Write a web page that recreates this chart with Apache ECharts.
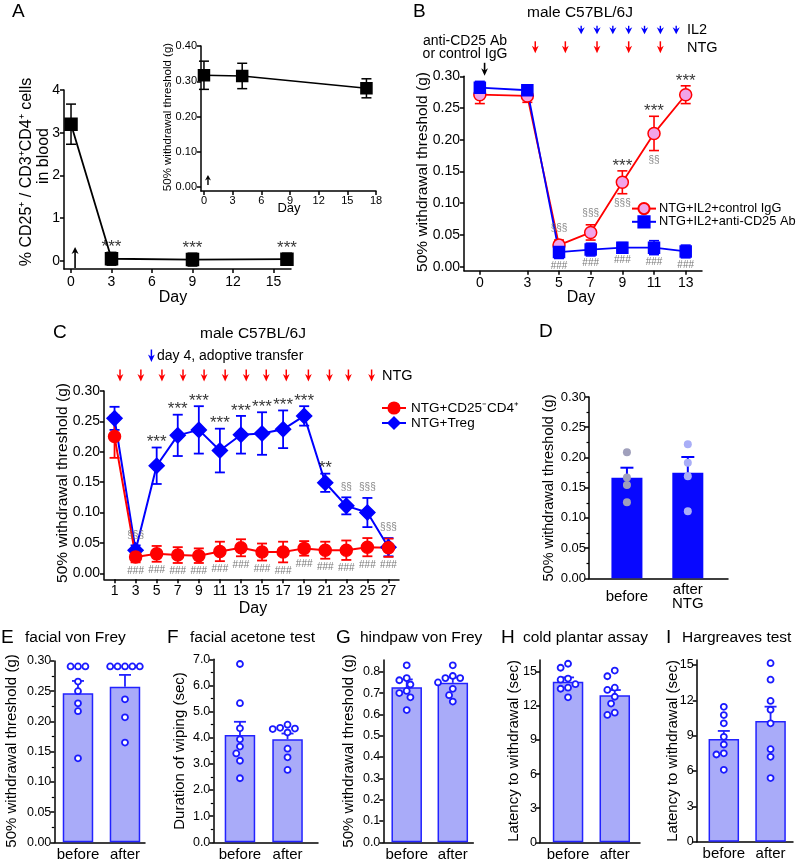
<!DOCTYPE html>
<html><head><meta charset="utf-8">
<script src="https://cdn.jsdelivr.net/npm/echarts@6/dist/echarts.min.js"></script>
<style>html,body{margin:0;padding:0;background:#fff}#c{width:800px;height:863px}</style>
</head><body><div id="c"></div>
<script>
// ================= DATA =================
// Panel A (main): % CD25+ / CD3+CD4+ cells in blood
const aDays = [0, 3, 9, 16];
const aMean = [3.2, 0.05, 0.03, 0.04];
const aSem  = [0.47, 0.15, 0.15, 0.14];
const aStarDays = [3, 9, 16];
const aTicksX = [0, 3, 6, 9, 12, 15];
const aTicksY = [0, 1, 2, 3, 4];
const aArrowDays = [0.3];
// Panel A inset
const aiDays = [0, 4, 17];
const aiMean = [0.317, 0.315, 0.280];
const aiSem  = [0.040, 0.036, 0.027];
const aiTicksX = [0, 3, 6, 9, 12, 15, 18];
const aiTicksY = [0, 0.1, 0.2, 0.3, 0.4];
const aiArrowDays = [0.42];
// Panel B
const bDays = [0, 3, 5, 7, 9, 11, 13];
const bIgGMean = [0.271, 0.269, 0.034, 0.054, 0.133, 0.210, 0.271];
const bIgGSem  = [0.014, 0.010, 0.008, 0.012, 0.018, 0.027, 0.014];
const bAbMean  = [0.282, 0.278, 0.023, 0.027, 0.030, 0.030, 0.024];
const bAbSem   = [0.010, 0.008, 0.010, 0.010, 0.008, 0.011, 0.010];
const bTicksX = [0, 3, 5, 7, 9, 11, 13];
const bTicksY = [0, 0.05, 0.10, 0.15, 0.20, 0.25, 0.30];
const bStarDays = [9, 11, 13];
const bSecAboveDays = [5, 7];      const bSecAboveText = ['§§§', '§§§'];
const bSecBelowDays = [9, 11];     const bSecBelowText = ['§§§', '§§'];
const bHashDays = [5, 7, 9, 11, 13];
const bIL2Days = [6.4, 7.4, 8.4, 9.4, 10.4, 11.4, 12.4];
const bNTGDays = [3.5, 5.4, 7.4, 9.4, 11.4];
const bAbDays = [0.3];
// Panel C
const cDays = [1, 3, 5, 7, 9, 11, 13, 15, 17, 19, 21, 23, 25, 27];
const cRedMean  = [0.225, 0.027, 0.032, 0.030, 0.029, 0.036, 0.042, 0.035, 0.035, 0.041, 0.038, 0.038, 0.043, 0.042];
const cRedSem   = [0.035, 0.009, 0.013, 0.013, 0.012, 0.016, 0.014, 0.014, 0.017, 0.012, 0.014, 0.016, 0.015, 0.015];
const cBlueMean = [0.255, 0.038, 0.177, 0.227, 0.236, 0.202, 0.228, 0.230, 0.237, 0.259, 0.149, 0.111, 0.100, 0.043];
const cBlueSem  = [0.019, 0.008, 0.030, 0.034, 0.039, 0.036, 0.031, 0.035, 0.031, 0.016, 0.015, 0.014, 0.024, 0.015];
const cTicksX = [1, 3, 5, 7, 9, 11, 13, 15, 17, 19, 21, 23, 25, 27];
const cTicksY = [0, 0.05, 0.10, 0.15, 0.20, 0.25, 0.30];
const cStarDays = [5, 7, 9, 11, 13, 15, 17, 19, 21];
const cStarText = ['***', '***', '***', '***', '***', '***', '***', '***', '**'];
const cSecDays = [3, 23, 25, 27];  const cSecText = ['§§§', '§§', '§§§', '§§§'];
const cHashDays = [3, 5, 7, 9, 11, 13, 15, 17, 19, 21, 23, 25, 27];
const cNTGDays = [1.52, 3.5, 5.5, 7.5, 9.5, 11.5, 13.5, 15.4, 17.3, 19.4, 21.4, 23.2, 25.4];
const cTransferDays = [4.5];
// Panel D
const dCats = ['before', 'after\nNTG'];
const dMean = [0.1665, 0.1747];
const dSem  = [0.0165, 0.0260];
const dBefore = [0.2085, 0.1666, 0.1544, 0.1258];
const dAfter  = [0.222, 0.191, 0.169, 0.111];
// Panels E-I
const eiCats = ['before', 'after'];
const eMean = [0.2465, 0.2575]; const eSem = [0.0205, 0.0195];
const eBefore = [0.291, 0.291, 0.291, 0.266, 0.250, 0.230, 0.217, 0.139];
const eAfter  = [0.291, 0.291, 0.291, 0.291, 0.291, 0.2366, 0.2068, 0.165];
const fMean = [4.10, 3.94]; const fSem = [0.51, 0.22];
const fBefore = [6.82, 5.32, 4.36, 3.94, 3.66, 3.40, 3.12, 2.45];
const fAfter  = [4.50, 4.38, 4.35, 4.33, 4.20, 3.58, 3.25, 2.77];
const gMean = [0.727, 0.748]; const gSem = [0.037, 0.025];
const gBefore = [0.83, 0.77, 0.76, 0.74, 0.71, 0.70, 0.68, 0.62];
const gAfter  = [0.83, 0.78, 0.77, 0.77, 0.75, 0.72, 0.69, 0.66];
const hMean = [14.12, 12.92]; const hSem = [0.38, 0.47];
const hBefore = [15.7, 15.35, 14.4, 14.3, 13.9, 13.6, 13.5, 12.75];
const hAfter  = [15.1, 14.6, 13.6, 13.4, 12.8, 12.2, 11.4, 11.2];
const iMean = [8.72, 10.25]; const iSem = [0.68, 1.21];
const iBefore = [11.45, 10.75, 10.05, 8.9, 8.25, 7.5, 7.4, 6.1];
const iAfter  = [15.15, 13.75, 11.95, 11.2, 10.05, 7.85, 7.2, 5.4];

// ================= LAYOUT =================
const FF = '"Liberation Sans", Arial, Helvetica, sans-serif';
const G = [
  {l:64,    t:90,    w:227,   h:179,   x:[-0.52,16.3],  y:[-0.19,4]},        //0 A
  {l:201,   t:46,    w:175,   h:145,   x:[-0.31,18],    y:[-0.0113,0.40]},   //1 A inset
  {l:464,   t:76.3,  w:238,   h:194.4, x:[-1,14.03],    y:[-0.0063,0.30]},   //2 B
  {l:104,   t:391,   w:295,   h:188.3, x:[0,28],        y:[-0.00987,0.30]},  //3 C
  {l:589,   t:397,   w:139,   h:181.3, x:[-0.623,1.66], y:[0,0.30]},         //4 D
  {l:54.3,  t:661,   w:90.7,  h:181.3, x:[-0.504,1.426],y:[0,0.30]},         //5 E
  {l:213.3, t:659.3, w:104.7, h:183,   x:[-0.56,1.64],  y:[0,7]},            //6 F
  {l:383.3, t:660,   w:90,    h:182.3, x:[-0.508,1.445],y:[0,0.855]},        //7 G
  {l:540,   t:660,   w:100,   h:182.3, x:[-0.6,1.54],   y:[0,16.03]},        //8 H
  {l:696.7, t:660,   w:96.3,  h:181.7, x:[-0.58,1.48],  y:[0,15.42]}         //9 I
];
const grids = G.map(g => ({left:g.l, top:g.t, width:g.w, height:g.h, containLabel:false}));

function axis(i, dim, o) {
  const g = G[i]; const r = dim === 'x' ? g.x : g.y;
  const a = {
    gridIndex:i, type:'value', min:r[0], max:r[1], position: dim === 'x' ? 'bottom' : 'left',
    splitLine:{show:false},
    axisLine:{show:true, onZero:false, lineStyle:{color:'#000', width:1.5}},
    axisTick:{show:o.tick !== false, length:4, lineStyle:{color:'#000', width:1.5}},
    axisLabel:{show:true, color:'#000', fontFamily:FF, fontSize:o.fs, margin:o.margin || 5,
               formatter:o.fmt, lineHeight:o.lh, verticalAlign:o.va},
    minorTick:{show:!!o.minor, splitNumber:2, length:2.5, lineStyle:{color:'#000', width:1.2}}
  };
  if (o.vals) { a.axisLabel.customValues = o.vals; a.axisTick.customValues = o.vals; }
  if (o.interval) a.interval = o.interval;
  return a;
}
const f0 = v => String(Math.round(v));
const f1 = v => v.toFixed(1);
const f2 = v => v.toFixed(2);
const catFmt = cats => v => cats[Math.round(v)];

const xAxes = [
  axis(0,'x',{fs:14, vals:aTicksX, fmt:f0, margin:6}),
  axis(1,'x',{fs:11, vals:aiTicksX, fmt:f0, margin:4}),
  axis(2,'x',{fs:14, vals:bTicksX, fmt:f0, margin:5}),
  axis(3,'x',{fs:14, vals:cTicksX, fmt:f0, margin:5}),
  axis(4,'x',{fs:15, vals:[0,1], fmt:catFmt(dCats), tick:false, margin:19, lh:14, va:'middle'}),
  axis(5,'x',{fs:15, vals:[0,1], fmt:catFmt(eiCats), tick:false, margin:5}),
  axis(6,'x',{fs:15, vals:[0,1], fmt:catFmt(eiCats), tick:false, margin:5}),
  axis(7,'x',{fs:15, vals:[0,1], fmt:catFmt(eiCats), tick:false, margin:5}),
  axis(8,'x',{fs:15, vals:[0,1], fmt:catFmt(eiCats), tick:false, margin:5}),
  axis(9,'x',{fs:15, vals:[0,1], fmt:catFmt(eiCats), tick:false, margin:5})
];
const yAxes = [
  axis(0,'y',{fs:14, vals:aTicksY, fmt:f0, margin:4}),
  axis(1,'y',{fs:11, vals:aiTicksY, fmt:f2, margin:4}),
  axis(2,'y',{fs:14, vals:bTicksY, fmt:f2, margin:4}),
  axis(3,'y',{fs:14, vals:cTicksY, fmt:f2, margin:4}),
  axis(4,'y',{fs:13, interval:0.05, fmt:f2, minor:true, margin:3}),
  axis(5,'y',{fs:12.5, interval:0.05, fmt:f2, minor:true, margin:3}),
  axis(6,'y',{fs:12.5, interval:1, fmt:f1, minor:true, margin:3}),
  axis(7,'y',{fs:12.5, vals:[0,0.1,0.2,0.3,0.4,0.5,0.6,0.7,0.8], fmt:f1, margin:3}),
  axis(8,'y',{fs:12.5, vals:[0,3,6,9,12,15], fmt:f0, margin:3}),
  axis(9,'y',{fs:12.5, vals:[0,3,6,9,12,15], fmt:f0, margin:3})
];

// ================= SERIES HELPERS =================
function errBoth(gi, xs, m, s, color, cap, lw, z) {
  return {type:'custom', xAxisIndex:gi, yAxisIndex:gi, silent:true, z:z || 2,
    data: xs.map((x,i) => [x, m[i]-s[i], m[i]+s[i]]),
    renderItem: (p, api) => {
      const x = api.value(0);
      const a = api.coord([x, api.value(1)]), b = api.coord([x, api.value(2)]);
      const st = {stroke:color, lineWidth:lw};
      return {type:'group', children:[
        {type:'line', shape:{x1:a[0], y1:a[1], x2:b[0], y2:b[1]}, style:st},
        {type:'line', shape:{x1:a[0]-cap, y1:a[1], x2:a[0]+cap, y2:a[1]}, style:st},
        {type:'line', shape:{x1:b[0]-cap, y1:b[1], x2:b[0]+cap, y2:b[1]}, style:st}
      ]};
    }};
}
function errUp(gi, m, s, color, cap, lw) {
  return {type:'custom', xAxisIndex:gi, yAxisIndex:gi, silent:true, z:3,
    data: m.map((v,i) => [i, v, v+s[i]]),
    renderItem: (p, api) => {
      const x = api.value(0);
      const a = api.coord([x, api.value(1)]), b = api.coord([x, api.value(2)]);
      const st = {stroke:color, lineWidth:lw};
      return {type:'group', children:[
        {type:'line', shape:{x1:a[0], y1:a[1], x2:b[0], y2:b[1]}, style:st},
        {type:'line', shape:{x1:b[0]-cap, y1:b[1], x2:b[0]+cap, y2:b[1]}, style:st}
      ]};
    }};
}
function lineS(gi, name, xs, m, symbol, size, fill, stroke, lw, z) {
  return {type:'line', name, xAxisIndex:gi, yAxisIndex:gi, z:z || 4, clip:false,
    data: xs.map((x,i) => [x, m[i]]), symbol, symbolSize:size, showSymbol:true,
    itemStyle:{color:fill, borderColor:stroke, borderWidth:1.5, opacity:1},
    lineStyle:{color:stroke, width:lw}, emphasis:{disabled:true}, animation:false};
}
function lookup(days, arr, d) { return arr[days.indexOf(d)]; }
function textS(gi, xs, ys, texts, pos, fs, color, dist) {
  return {type:'scatter', xAxisIndex:gi, yAxisIndex:gi, symbolSize:1, clip:false, silent:true, z:10,
    itemStyle:{color:'rgba(0,0,0,0)'},
    data: xs.map((x,i) => ({name:texts[i], value:[x, ys[i]]})),
    label:{show:true, position:pos, distance:dist, formatter:'{b}', fontSize:fs, color, fontFamily:FF}};
}
// arrow drawn relative to grid top (layout offsets in px)
function arrowS(gi, xs, y0, y1, color, lw, hw, hl) {
  return {type:'custom', xAxisIndex:gi, yAxisIndex:gi, silent:true, z:10,
    data: xs.map(x => [x, 0]),
    renderItem: (p, api) => {
      const cx = api.coord([api.value(0), 0])[0];
      const top = p.coordSys.y;
      const ya = top + y0, yb = top + y1, dir = Math.sign(yb - ya);
      return {type:'group', children:[
        {type:'line', shape:{x1:cx, y1:ya, x2:cx, y2:yb - dir*hl*0.6}, style:{stroke:color, lineWidth:lw}},
        {type:'polygon', shape:{points:[[cx-hw, yb-dir*hl], [cx, yb-dir*hl*0.7], [cx+hw, yb-dir*hl], [cx, yb]]}, style:{fill:color}}
      ]};
    }};
}
function swarm(gi, vals, cat, diam) {
  const g = G[gi];
  const pyy = g.h / (g.y[1]-g.y[0]), pxx = g.w / (g.x[1]-g.x[0]);
  const placed = []; const out = new Array(vals.length);
  const order = vals.map((v,i) => i).sort((a,b) => vals[b]-vals[a]);
  for (const i of order) {
    const y = vals[i]*pyy;
    const steps = [0]; for (let k = 1; k < 12; k++) steps.push(-k*0.5*diam, k*0.5*diam);
    let off = 0;
    for (const s of steps) {
      if (placed.every(q => Math.hypot(q[0]-s, q[1]-y) >= diam*0.98)) { off = s; break; }
    }
    placed.push([off, y]);
    out[i] = [cat + off/pxx, vals[i]];
  }
  return out;
}
function barS(gi, m, fill, stroke, bw) {
  return {type:'bar', xAxisIndex:gi, yAxisIndex:gi, barWidth:bw, z:2, silent:true,
    data: m.map((v,i) => [i, v]),
    itemStyle:{color:fill, borderColor:stroke, borderWidth:stroke ? 1.5 : 0}};
}
function dotsS(gi, data, size, fill, stroke, bw) {
  return {type:'scatter', xAxisIndex:gi, yAxisIndex:gi, z:5, clip:false, silent:true,
    data, symbol:'circle', symbolSize:size,
    itemStyle:{color:fill, borderColor:stroke, borderWidth:bw, opacity:1}};
}

const RED = '#ff0000', BLUE = '#0000ff', PINK = '#f2a4e8';
const BARFILL = '#a9abf9', BARLINE = '#2222ff';
const series = [];
// ---- A ----
series.push(errBoth(0, aDays, aMean, aSem, '#000', 5, 1.5));
series.push(lineS(0, 'A', aDays, aMean, 'rect', 12, '#000', '#000', 1.8));
series.push(textS(0, aStarDays, aStarDays.map(d => lookup(aDays,aMean,d)+lookup(aDays,aSem,d)),
  aStarDays.map(() => '***'), 'top', 17, '#000', -4));
series.push(arrowS(0, aArrowDays, 178, 157, '#000', 1.6, 3.5, 7));
// ---- A inset ----
series.push(errBoth(1, aiDays, aiMean, aiSem, '#000', 5, 1.5));
series.push(lineS(1, 'Ai', aiDays, aiMean, 'rect', 11, '#000', '#000', 1.6));
series.push(arrowS(1, aiArrowDays, 139, 129, '#000', 1.4, 3, 5.5));
// ---- B ----
series.push(errBoth(2, bDays, bIgGMean, bIgGSem, RED, 5, 1.6));
series.push(lineS(2, 'NTG+IL2+control IgG', bDays, bIgGMean, 'circle', 12, PINK, RED, 1.8));
series.push(errBoth(2, bDays, bAbMean, bAbSem, BLUE, 5, 1.6));
series.push(lineS(2, 'NTG+IL2+anti-CD25 Ab', bDays, bAbMean, 'rect', 11, BLUE, BLUE, 1.8));
series.push(textS(2, bStarDays, bStarDays.map(d => lookup(bDays,bIgGMean,d)+lookup(bDays,bIgGSem,d)),
  bStarDays.map(() => '***'), 'top', 17, '#000', -4));
series.push(textS(2, bSecAboveDays, bSecAboveDays.map(d => lookup(bDays,bIgGMean,d)+lookup(bDays,bIgGSem,d)),
  bSecAboveText, 'top', 10, '#666', 6));
series.push(textS(2, bSecBelowDays, bSecBelowDays.map(d => lookup(bDays,bIgGMean,d)-lookup(bDays,bIgGSem,d)),
  bSecBelowText, 'bottom', 10, '#666', 4));
series.push(textS(2, bHashDays, bHashDays.map(d => lookup(bDays,bAbMean,d)-lookup(bDays,bAbSem,d)),
  bHashDays.map(() => '###'), 'bottom', 10, '#555', 2));
series.push(arrowS(2, bIL2Days, -50.5, -42, BLUE, 1.4, 3.6, 7));
series.push(arrowS(2, bNTGDays, -35, -23, RED, 1.5, 3.4, 7.5));
series.push(arrowS(2, bAbDays, -13.5, -0.5, '#000', 1.6, 3.4, 7.5));
// ---- C ----
series.push(errBoth(3, cDays, cBlueMean, cBlueSem, BLUE, 5, 1.8));
series.push(lineS(3, 'NTG+Treg', cDays, cBlueMean, 'diamond', 15, BLUE, BLUE, 2));
series.push(errBoth(3, cDays, cRedMean, cRedSem, RED, 5, 1.8));
series.push(lineS(3, 'NTG+CD25⁻CD4⁺', cDays, cRedMean, 'circle', 12, RED, RED, 2));
series.push(textS(3, cStarDays, cStarDays.map(d => lookup(cDays,cBlueMean,d)+lookup(cDays,cBlueSem,d)),
  cStarText, 'top', 17, '#000', -4));
series.push(textS(3, cSecDays, cSecDays.map(d => lookup(cDays,cBlueMean,d)+lookup(cDays,cBlueSem,d)),
  cSecText, 'top', 10, '#666', 5));
series.push(textS(3, cHashDays, cHashDays.map(d => lookup(cDays,cRedMean,d)-lookup(cDays,cRedSem,d)),
  cHashDays.map(() => '###'), 'bottom', 10, '#555', 3));
series.push(arrowS(3, cNTGDays, -21.5, -9.5, RED, 1.5, 3.4, 7.5));
series.push(arrowS(3, cTransferDays, -41.5, -29, BLUE, 1.5, 3.4, 7.5));
// ---- D ----
series.push(barS(4, dMean, '#0808ff', null, 31));
series.push(errUp(4, dMean, dSem, BLUE, 6.5, 2));
series.push(dotsS(4, dBefore.map(v => [0, v]), 8, '#a0a0bc', '#a0a0bc', 0));
series.push(dotsS(4, dAfter.map(v => [1, v]), 8, '#a9aef7', '#a9aef7', 0));
// ---- E-I ----
const panels = [[5,eMean,eSem,eBefore,eAfter],[6,fMean,fSem,fBefore,fAfter],[7,gMean,gSem,gBefore,gAfter],
                [8,hMean,hSem,hBefore,hAfter],[9,iMean,iSem,iBefore,iAfter]];
for (const [gi, m, s, b, a] of panels) {
  series.push(barS(gi, m, BARFILL, BARLINE, 30.5));
  series.push(errUp(gi, m, s, BARLINE, 6, 1.8));
  series.push(dotsS(gi, swarm(gi, b, 0, 7.4), 6, '#fff', '#1a1aff', 1.8));
  series.push(dotsS(gi, swarm(gi, a, 1, 7.4), 6, '#fff', '#1a1aff', 1.8));
}

// ================= TEXT =================
function T(text, x, y, fs, opt) {
  opt = opt || {};
  return {type:'text', x, y, rotation: opt.rot ? Math.PI/2 : 0, silent:true, z:20,
    style:{text, fontSize:fs, fontFamily:FF, fill:opt.color || '#000',
      align:opt.align || 'center', verticalAlign:'middle', fontWeight:opt.bold ? 'bold' : 'normal'}};
}
const graphics = [
  T('A', 12, 12, 19, {align:'left'}), T('B', 413, 12, 19, {align:'left'}),
  T('C', 53, 333, 19, {align:'left'}), T('D', 539, 332, 19, {align:'left'}),
  T('E', 1, 638, 19, {align:'left'}), T('F', 167, 638, 19, {align:'left'}),
  T('G', 336, 638, 19, {align:'left'}), T('H', 501, 638, 19, {align:'left'}),
  T('I', 666, 638, 19, {align:'left'}),
  T('facial von Frey', 25, 638, 15.5, {align:'left'}),
  T('facial acetone test', 190, 638, 15.5, {align:'left'}),
  T('hindpaw von Frey', 360, 638, 15.5, {align:'left'}),
  T('cold plantar assay', 523, 638, 15.5, {align:'left'}),
  T('Hargreaves test', 682, 638, 15.5, {align:'left'}),
  // A
  T('% CD25⁺ / CD3⁺CD4⁺ cells', 27, 172, 16, {rot:true}),
  T('in blood', 44, 156, 16, {rot:true}),
  T('Day', 173, 298, 16),
  T('50% withdrawal threshold (g)', 168, 117, 11.5, {rot:true}),
  T('Day', 289, 208, 13),
  // B
  T('male C57BL/6J', 580, 13, 15.5),
  T('anti-CD25 Ab', 465, 41, 14), T('or control IgG', 465, 54, 14),
  T('IL2', 687, 30, 14.5, {align:'left'}), T('NTG', 687, 48, 14.5, {align:'left'}),
  T('50% withdrawal threshold (g)', 423, 172, 15.5, {rot:true}),
  T('Day', 581, 298, 16),
  // C
  T('male C57BL/6J', 253, 334, 15.5),
  T('day 4, adoptive transfer', 157, 356, 14, {align:'left'}),
  T('NTG', 382, 376, 14.5, {align:'left'}),
  T('50% withdrawal threshold (g)', 63, 483, 15.5, {rot:true}),
  T('Day', 253, 609, 16),
  // D
  T('50% withdrawal threshold (g)', 549, 488, 14.5, {rot:true}),
  // E-I
  T('50% withdrawal threshold (g)', 12, 751, 15, {rot:true}),
  T('Duration of wiping (sec)', 180, 751, 15, {rot:true}),
  T('50% withdrawal threshold (g)', 349, 751, 15, {rot:true}),
  T('Latency to withdrawal (sec)', 514, 751, 15, {rot:true}),
  T('Latency to withdrawal (sec)', 673, 751, 15, {rot:true})
];

const chart = echarts.init(document.getElementById('c'), null, {renderer:'canvas'});
chart.setOption({
  animation:false,
  backgroundColor:'#fff',
  textStyle:{fontFamily:FF},
  grid:grids, xAxis:xAxes, yAxis:yAxes,
  legend:[
    {data:['NTG+IL2+control IgG','NTG+IL2+anti-CD25 Ab'], orient:'vertical', left:631, top:202,
     itemWidth:24, itemHeight:14, itemGap:0, padding:0, selectedMode:false,
     textStyle:{fontFamily:FF, fontSize:12.8, color:'#000', padding:[0,0,0,-2]}},
    {data:['NTG+CD25⁻CD4⁺','NTG+Treg'], orient:'vertical', left:381, top:401,
     itemWidth:24, itemHeight:14, itemGap:1, padding:0, selectedMode:false,
     textStyle:{fontFamily:FF, fontSize:13.5, color:'#000'}}
  ],
  series, graphic:graphics
});
</script></body></html>
